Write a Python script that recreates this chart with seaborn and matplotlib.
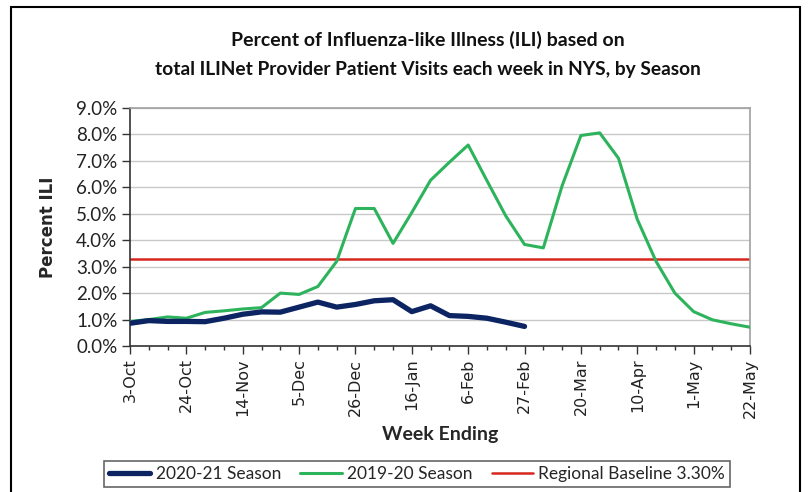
import numpy as np
import pandas as pd
import matplotlib
matplotlib.use("Agg")
import matplotlib.pyplot as plt
import matplotlib.patches as mpatches
import seaborn as sns

weeks = ["3-Oct", "10-Oct", "17-Oct", "24-Oct", "31-Oct", "7-Nov", "14-Nov", "21-Nov", "28-Nov",
         "5-Dec", "12-Dec", "19-Dec", "26-Dec", "2-Jan", "9-Jan", "16-Jan", "23-Jan", "30-Jan",
         "6-Feb", "13-Feb", "20-Feb", "27-Feb", "6-Mar", "13-Mar", "20-Mar", "27-Mar", "3-Apr",
         "10-Apr", "17-Apr", "24-Apr", "1-May", "8-May", "15-May", "22-May"]

season_2019_20 = [0.93, 1.00, 1.10, 1.05, 1.27, 1.33, 1.40, 1.45, 2.00, 1.95, 2.25, 3.20,
                  5.20, 5.20, 3.88, 5.05, 6.27, 6.95, 7.60, 6.25, 4.92, 3.84, 3.71, 6.06,
                  7.96, 8.06, 7.10, 4.79, 3.20, 2.00, 1.30, 0.99, 0.84, 0.71]

season_2020_21 = [0.86, 0.96, 0.93, 0.93, 0.92, 1.05, 1.20, 1.29, 1.28, 1.47, 1.66, 1.47,
                  1.57, 1.71, 1.75, 1.30, 1.52, 1.15, 1.12, 1.05, 0.90, 0.74]

baseline = 3.30

tick_labels = ["3-Oct", "24-Oct", "14-Nov", "5-Dec", "26-Dec", "16-Jan", "6-Feb",
               "27-Feb", "20-Mar", "10-Apr", "1-May", "22-May"]

df_a = pd.DataFrame({"x": np.arange(len(season_2020_21)), "y": season_2020_21})
df_b = pd.DataFrame({"x": np.arange(len(season_2019_20)), "y": season_2019_20})
df_c = pd.DataFrame({"x": [0, len(weeks) - 1], "y": [baseline, baseline]})

sns.set_theme(style="white")
plt.rcParams["font.family"] = ["Lato", "DejaVu Sans"]

fig = plt.figure(figsize=(8.1, 4.92), dpi=100)
ax = fig.add_axes([130 / 810, 1 - 346 / 492, 620 / 810, 238 / 492])

navy = "#0C2461"
green = "#2DB35C"
red = "#D7261E"

sns.lineplot(data=df_a, x="x", y="y", ax=ax, color=navy, linewidth=3.8,
             label="2020-21 Season", zorder=4)
sns.lineplot(data=df_b, x="x", y="y", ax=ax, color=green, linewidth=2.2,
             label="2019-20 Season", zorder=3)
sns.lineplot(data=df_c, x="x", y="y", ax=ax, color=red, linewidth=1.8,
             label="Regional Baseline 3.30%", zorder=2)

ax.set_xlim(0, len(weeks) - 1)
ax.set_ylim(0, 9)
ax.set_yticks(np.arange(0, 10, 1))
ax.set_yticklabels([f"{v:.1f}%" for v in range(10)], fontsize=13.5, color="#222222")
tick_pos = [weeks.index(t) for t in tick_labels]
ax.set_xticks(tick_pos)
ax.set_xticks(np.arange(len(weeks)), minor=True)
ax.set_xticklabels(tick_labels, rotation=90, fontsize=11.5, family="DejaVu Sans", color="#222222")

ax.grid(axis="y", color="#C8C8C8", linewidth=1.0)
ax.set_axisbelow(True)
for s in ["top", "right"]:
    ax.spines[s].set_color("#A0A0A0")
    ax.spines[s].set_linewidth(1.2)
for s in ["left", "bottom"]:
    ax.spines[s].set_color("#333333")
    ax.spines[s].set_linewidth(1.2)
ax.tick_params(axis="y", which="major", direction="out", length=6, width=1, color="#333333", left=True, pad=3)
ax.tick_params(axis="x", which="major", direction="out", length=6, width=1, color="#333333", bottom=True, pad=3)
ax.tick_params(axis="x", which="minor", direction="out", length=3, width=1, color="#333333", bottom=True)

ax.set_xlabel("Week Ending", fontsize=14, fontweight="bold", labelpad=6)
ax.set_ylabel("Percent ILI", fontsize=12, fontweight="bold", labelpad=14, family="DejaVu Sans")

ax.legend_.remove()
handles, labels = ax.get_legend_handles_labels()
leg = fig.legend(handles, labels, loc="center", bbox_to_anchor=(417 / 810, 1 - 474 / 492),
                 ncol=3, frameon=True, fancybox=False, edgecolor="#404040", fontsize=12.5,
                 handlelength=2.4, columnspacing=1.1, handletextpad=0.3, borderpad=0.3,
                 borderaxespad=0)
leg.get_frame().set_linewidth(1.2)

fig.text(428 / 810, 1 - 40 / 492, "Percent of Influenza-like Illness (ILI) based on",
         ha="center", va="center", fontsize=14, fontweight="bold", color="#111111")
fig.text(428 / 810, 1 - 70 / 492, "total ILINet Provider Patient Visits each week in NYS, by Season",
         ha="center", va="center", fontsize=13.8, fontweight="bold", color="#111111")

frame = mpatches.Rectangle((11 / 810, -0.02), 789 / 810, 1 - 7 / 492 + 0.02,
                           transform=fig.transFigure, fill=False, edgecolor="black",
                           linewidth=1.5, clip_on=False)
fig.patches.append(frame)

fig.savefig("out.png", dpi=100, facecolor="white")
